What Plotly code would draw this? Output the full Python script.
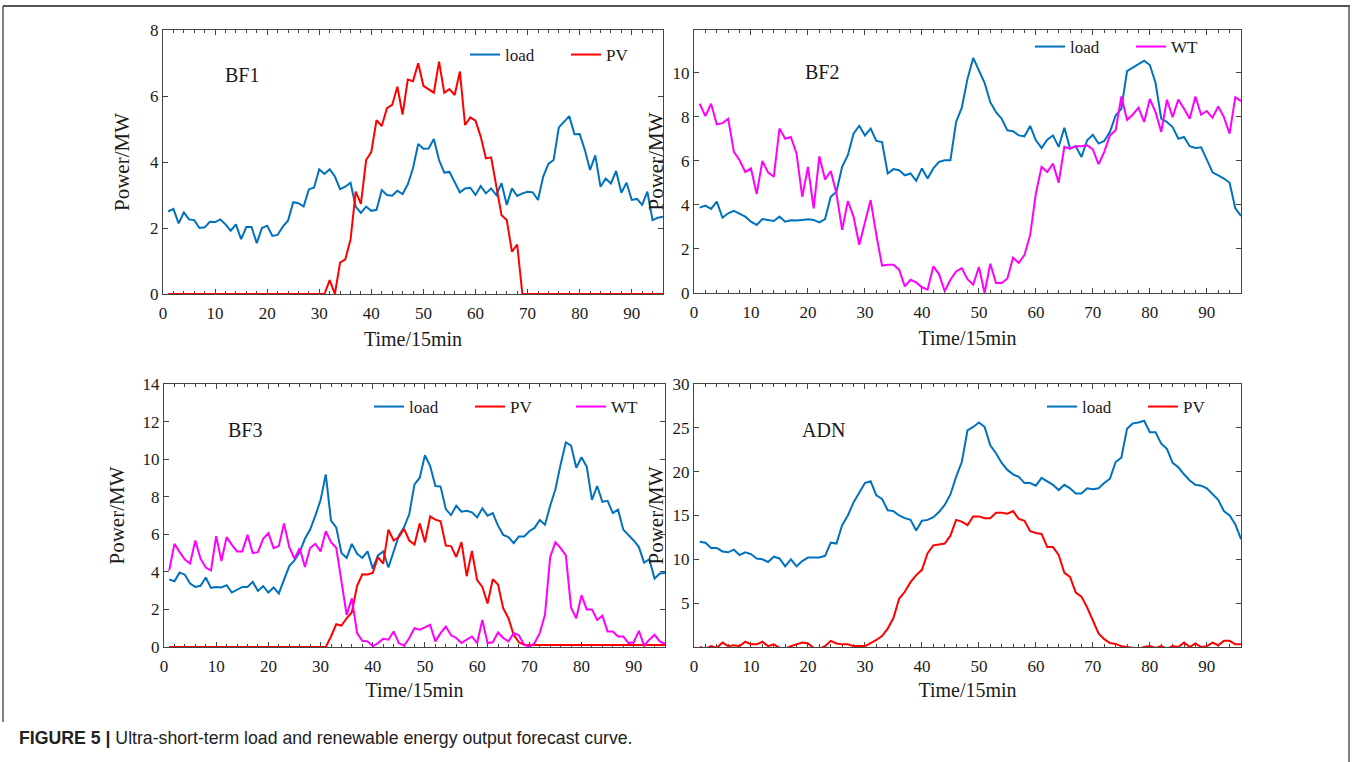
import plotly.graph_objects as go

# ---------------- data ----------------
t = list(range(1, 97))

bf1_load = [2.50, 2.58, 2.14, 2.47, 2.26, 2.24, 2.00, 2.02, 2.19, 2.18,
            2.26, 2.11, 1.92, 2.11, 1.66, 2.03, 2.03, 1.54, 2.00, 2.07,
            1.76, 1.79, 2.04, 2.22, 2.78, 2.75, 2.65, 3.17, 3.23, 3.78,
            3.64, 3.78, 3.56, 3.18, 3.25, 3.37, 2.65, 2.46, 2.65, 2.52,
            2.55, 3.15, 3.00, 2.98, 3.13, 3.03, 3.32, 3.81, 4.55, 4.40,
            4.41, 4.70, 4.06, 3.68, 3.70, 3.38, 3.08, 3.20, 3.22, 3.00,
            3.27, 3.05, 3.20, 3.00, 3.36, 2.70, 3.20, 2.97, 3.05, 3.10,
            3.08, 2.85, 3.56, 3.94, 4.06, 5.05, 5.22, 5.39, 4.84, 4.85,
            4.36, 3.76, 4.20, 3.25, 3.50, 3.35, 3.73, 3.07, 3.37, 2.85,
            2.88, 2.70, 3.10, 2.24, 2.31, 2.34]

bf1_pv = [0, 0, 0, 0, 0, 0, 0, 0, 0, 0,
          0, 0, 0, 0, 0, 0, 0, 0, 0, 0,
          0, 0, 0, 0, 0, 0, 0, 0, 0, 0,
          0, 0.42, 0, 0.95, 1.05, 1.64, 3.10, 2.73, 4.06, 4.31,
          5.27, 5.09, 5.63, 5.73, 6.28, 5.44, 6.50, 6.45, 6.99, 6.31,
          6.21, 6.10, 7.04, 6.10, 6.21, 6.03, 6.74, 5.12, 5.35, 5.25,
          4.77, 4.11, 4.14, 3.25, 2.39, 2.24, 1.28, 1.50, 0, 0,
          0, 0, 0, 0, 0, 0, 0, 0, 0, 0,
          0, 0, 0, 0, 0, 0, 0, 0, 0, 0,
          0, 0, 0, 0, 0, 0]

bf2_load = [3.88, 3.97, 3.82, 4.15, 3.42, 3.62, 3.73, 3.59, 3.47, 3.24,
            3.09, 3.36, 3.32, 3.27, 3.47, 3.24, 3.30, 3.29, 3.32, 3.35,
            3.32, 3.21, 3.36, 4.37, 4.60, 5.73, 6.26, 7.24, 7.60, 7.16,
            7.47, 6.91, 6.86, 5.43, 5.63, 5.58, 5.35, 5.43, 5.10, 5.66,
            5.20, 5.66, 5.96, 6.03, 6.03, 7.77, 8.42, 9.73, 10.68, 10.14,
            9.55, 8.67, 8.22, 7.92, 7.39, 7.35, 7.16, 7.12, 7.59, 6.94,
            6.59, 6.97, 7.16, 6.64, 7.51, 6.56, 6.67, 6.18, 6.94, 7.19,
            6.79, 6.91, 7.32, 8.07, 8.37, 10.08, 10.23, 10.41, 10.56, 10.36,
            9.55, 7.92, 7.77, 7.54, 7.01, 7.09, 6.67, 6.59, 6.62, 6.06,
            5.48, 5.35, 5.20, 5.01, 3.85, 3.50]

bf2_wt = [8.60, 8.04, 8.60, 7.66, 7.72, 7.92, 6.41, 6.03, 5.50, 5.66,
          4.50, 6.00, 5.48, 5.28, 7.47, 7.01, 7.09, 6.33, 4.37, 5.73,
          3.85, 6.21, 5.16, 5.54, 4.52, 2.87, 4.18, 3.47, 2.19, 3.24,
          4.22, 2.64, 1.24, 1.28, 1.28, 1.06, 0.30, 0.60, 0.48, 0.26,
          0.15, 1.21, 0.86, 0.08, 0.60, 0.98, 1.13, 0.63, 0.38, 1.18,
          0.00, 1.33, 0.45, 0.45, 0.66, 1.61, 1.36, 1.73, 2.64, 4.52,
          5.73, 5.50, 5.88, 5.01, 6.64, 6.56, 6.67, 6.67, 6.71, 6.53,
          5.85, 6.41, 7.16, 7.39, 8.93, 7.87, 8.10, 8.42, 7.77, 8.82,
          8.22, 7.32, 8.78, 7.99, 8.79, 8.37, 7.92, 8.93, 8.10, 8.27,
          7.96, 8.48, 7.99, 7.24, 8.90, 8.72]

bf3_load = [3.60, 3.50, 3.96, 3.85, 3.38, 3.20, 3.26, 3.70, 3.15, 3.19,
            3.17, 3.29, 2.90, 3.03, 3.20, 3.20, 3.47, 2.98, 3.24, 2.90,
            3.17, 2.85, 3.64, 4.31, 4.61, 5.05, 5.76, 6.25, 6.99, 7.82,
            9.19, 6.73, 6.37, 5.00, 4.74, 5.49, 4.96, 4.74, 5.09, 4.17,
            4.88, 5.09, 4.23, 5.05, 5.93, 6.37, 7.08, 8.66, 9.01, 10.21,
            9.63, 8.57, 8.54, 7.34, 7.02, 7.52, 7.20, 7.25, 7.17, 6.90,
            7.38, 6.99, 7.13, 6.46, 5.97, 5.85, 5.53, 5.88, 5.88, 6.16,
            6.34, 6.76, 6.51, 7.52, 8.40, 9.72, 10.90, 10.72, 9.54, 10.10,
            9.60, 7.83, 8.57, 7.73, 7.78, 7.13, 7.31, 6.25, 5.97, 5.67,
            5.32, 4.49, 4.67, 3.64, 3.91, 3.94]

bf3_pv = [0, 0, 0, 0, 0, 0, 0, 0, 0, 0,
          0, 0, 0, 0, 0, 0, 0, 0, 0, 0,
          0, 0, 0, 0, 0, 0, 0, 0, 0, 0,
          0, 0.56, 1.21, 1.14, 1.53, 1.85, 3.26, 3.87, 3.86, 3.94,
          4.79, 4.44, 6.25, 5.67, 5.85, 6.29, 5.67, 5.46, 6.58, 5.58,
          6.95, 6.78, 6.69, 5.40, 5.37, 4.79, 5.58, 3.77, 5.11, 3.56,
          3.20, 2.32, 3.61, 3.33, 2.06, 1.53, 0.65, 0.25, 0.12, 0.10,
          0.10, 0.10, 0.10, 0.10, 0.10, 0.10, 0.10, 0.10, 0.10, 0.10,
          0.10, 0.10, 0.10, 0.10, 0.10, 0.10, 0.10, 0.10, 0.10, 0.10,
          0.10, 0.10, 0.10, 0.10, 0.10, 0.10]

bf3_wt = [4.08, 5.49, 5.05, 4.65, 4.44, 5.67, 4.70, 4.23, 4.08, 5.90,
          4.58, 5.85, 5.44, 5.09, 5.09, 5.97, 5.00, 5.05, 5.76, 6.06,
          5.26, 5.37, 6.58, 5.32, 4.70, 5.26, 4.26, 5.28, 5.49, 5.09,
          6.16, 5.58, 5.28, 3.38, 1.71, 2.59, 0.74, 0.33, 0.30, 0.04,
          0.21, 0.44, 0.39, 0.83, 0.21, 0.07, 0.48, 1.00, 0.92, 1.04,
          1.18, 0.30, 0.74, 1.09, 0.62, 0.48, 0.21, 0.39, 0.56, 0.21,
          1.44, 0.21, 0.25, 0.77, 0.48, 0.30, 0.74, 0.62, 0.12, 0.00,
          0.21, 0.74, 1.71, 4.79, 5.58, 5.26, 4.88, 2.09, 1.53, 2.76,
          2.00, 2.00, 1.44, 1.67, 0.83, 0.83, 0.56, 0.56, 0.21, 0.25,
          0.86, 0.07, 0.39, 0.65, 0.30, 0.16]

adn_load = [12.0, 11.9, 11.3, 11.3, 10.9, 10.8, 11.1, 10.5, 10.8, 10.6,
            10.1, 10.0, 9.7, 10.3, 10.1, 9.2, 10.0, 9.2, 9.8, 10.2,
            10.2, 10.2, 10.4, 11.9, 11.8, 13.9, 15.0, 16.5, 17.6, 18.7,
            18.9, 17.3, 16.9, 15.6, 15.5, 15.0, 14.7, 14.5, 13.3, 14.4,
            14.5, 14.8, 15.4, 16.2, 17.4, 19.4, 21.1, 24.7, 25.1, 25.6,
            25.1, 23.0, 22.1, 21.0, 20.2, 19.7, 19.4, 18.7, 18.7, 18.4,
            19.3, 18.9, 18.5, 17.9, 18.5, 18.1, 17.5, 17.5, 18.1, 18.0,
            18.1, 18.7, 19.2, 21.1, 21.6, 24.9, 25.5, 25.6, 25.8, 24.5,
            24.5, 23.2, 22.6, 21.0, 20.5, 19.7, 19.0, 18.5, 18.4, 18.1,
            17.5, 16.8, 15.5, 15.0, 14.0, 12.3]

adn_pv = [0.0, -0.2, 0.1, -0.1, 0.5, 0.1, 0.2, 0.1, 0.6, 0.3,
          0.3, 0.6, 0.1, 0.3, -0.1, -0.2, 0.1, 0.3, 0.5, 0.4,
          -0.1, -0.2, 0.1, 0.7, 0.4, 0.3, 0.3, 0.1, 0.1, 0.1,
          0.45, 0.8, 1.25, 2.1, 3.3, 5.5, 6.3, 7.4, 8.2, 8.8,
          10.7, 11.6, 11.7, 11.8, 12.7, 14.5, 14.3, 13.9, 14.9, 14.9,
          14.7, 14.7, 15.3, 15.3, 15.2, 15.5, 14.6, 14.4, 13.2, 13.0,
          12.9, 11.4, 11.4, 10.5, 8.45, 8.0, 6.2, 5.75, 4.5, 3.0,
          1.55, 0.9, 0.45, 0.35, 0.1, 0.0, -0.1, -0.2, 0.0, 0.1,
          -0.1, 0.1, -0.2, 0.1, 0.0, 0.5, 0.0, 0.4, 0.0, 0.1,
          0.5, 0.2, 0.7, 0.7, 0.3, 0.3]

x_ticks = [0, 10, 20, 30, 40, 50, 60, 70, 80, 90]
bf1_yticks = [0, 2, 4, 6, 8]
bf2_yticks = [0, 2, 4, 6, 8, 10]
bf3_yticks = [0, 2, 4, 6, 8, 10, 12, 14]
adn_yticks = [5, 10, 15, 20, 25, 30]

panel_names = ["BF1", "BF2", "BF3", "ADN"]
x_title = "Time/15min"
y_title = "Power/MW"
caption_bold = "FIGURE 5 |"
caption_text = " Ultra-short-term load and renewable energy output forecast curve."

# ---------------- style ----------------
W, H = 1355, 762
BLUE = "#0072BD"
RED = "#FF0000"
MAG = "#FF00FF"
AX = "#444444"
TXT = "#1a1a1a"
SERIF = "Liberation Serif, Times New Roman, serif"
SANS = "Liberation Sans, Arial, sans-serif"


def px(x):
    return x / W


def py(y):
    return 1 - y / H


# panel boxes in pixels: left, right, top, bottom
boxes = [
    (163, 663, 30, 294),
    (694, 1241, 30, 293),
    (164, 665, 384, 647),
    (694, 1241, 384, 647),
]
yranges = [[0, 8], [0, 11.95], [0, 14], [0, 30]]
yticks = [bf1_yticks, bf2_yticks, bf3_yticks, adn_yticks]
ystandoff = [14, 3, 12, 3]

series = [
    [("load", bf1_load, BLUE), ("PV", bf1_pv, RED)],
    [("load", bf2_load, BLUE), ("WT", bf2_wt, MAG)],
    [("load", bf3_load, BLUE), ("PV", bf3_pv, RED), ("WT", bf3_wt, MAG)],
    [("load", adn_load, BLUE), ("PV", adn_pv, RED)],
]
legend_pos = [(667, 55), (1232, 47), (672, 407), (1244, 407)]
label_pos = [(242, 75), (822, 72), (245, 430), (823, 430)]

fig = go.Figure()
layout = dict(
    width=W, height=H,
    margin=dict(l=0, r=0, t=0, b=0),
    paper_bgcolor="white", plot_bgcolor="white",
    showlegend=True,
)
annotations = []

for i in range(4):
    l, r, tp, bt = boxes[i]
    sfx = "" if i == 0 else str(i + 1)
    xa = "x" + sfx
    ya = "y" + sfx
    leg = "legend" if i == 0 else "legend" + str(i + 1)
    for name, vals, col in series[i]:
        fig.add_trace(go.Scatter(
            x=t, y=vals, mode="lines", name=name,
            line=dict(color=col, width=2),
            xaxis=xa, yaxis=ya, legend=leg,
        ))
    layout["xaxis" + sfx] = dict(
        domain=[px(l), px(r)], anchor=ya, range=[0, 96],
        tickvals=x_ticks, ticks="inside", ticklen=5, tickwidth=1,
        tickcolor=AX, showline=True, linecolor=AX, linewidth=1.3,
        mirror="allticks", showgrid=False, zeroline=False,
        minor=dict(dtick=2, tick0=0, ticks="inside", ticklen=3,
                   tickcolor=AX, showgrid=False),
        tickfont=dict(family=SERIF, size=17, color=TXT),
        ticklabelstandoff=3,
        title=dict(text=x_title, font=dict(family=SERIF, size=20, color=TXT),
                   standoff=10 if i < 2 else 8),
        automargin=False, layer="below traces",
    )
    layout["yaxis" + sfx] = dict(
        domain=[py(bt), py(tp)], anchor=xa, range=yranges[i],
        tickvals=yticks[i], ticks="inside", ticklen=5, tickwidth=1,
        tickcolor=AX, showline=True, linecolor=AX, linewidth=1.3,
        mirror="ticks", showgrid=False, zeroline=False,
        tickfont=dict(family=SERIF, size=17, color=TXT),
        title=dict(text=y_title, font=dict(family=SERIF, size=21, color=TXT),
                   standoff=ystandoff[i]),
        automargin=False, layer="below traces" if i != 3 else "above traces",
    )
    lx, lyy = legend_pos[i]
    layout[leg] = dict(
        orientation="h", x=px(lx), y=py(lyy), xanchor="right", yanchor="middle",
        xref="paper", yref="paper", bgcolor="rgba(0,0,0,0)",
        font=dict(family=SERIF, size=17, color=TXT),
        itemwidth=30, tracegroupgap=0, entrywidth=56,
    )
    ax_, ay_ = label_pos[i]
    annotations.append(dict(
        text=panel_names[i], x=px(ax_), y=py(ay_), xref="paper", yref="paper",
        showarrow=False, xanchor="center", yanchor="middle",
        font=dict(family=SERIF, size=20, color=TXT),
    ))

annotations.append(dict(
    text="<b>" + caption_bold + "</b>" + caption_text,
    x=px(17), y=py(738), xref="paper", yref="paper", showarrow=False,
    xanchor="left", yanchor="middle",
    font=dict(family=SANS, size=17.7, color="#222222"),
))
layout["annotations"] = annotations
layout["shapes"] = [
    dict(type="line", xref="paper", yref="paper", x0=px(3), x1=px(1350),
         y0=py(6), y1=py(6), line=dict(color="#555555", width=2)),
    dict(type="line", xref="paper", yref="paper", x0=px(3), x1=px(3),
         y0=py(6), y1=py(722), line=dict(color="#555555", width=1.5)),
    dict(type="line", xref="paper", yref="paper", x0=px(1349), x1=px(1349),
         y0=py(6), y1=py(762), line=dict(color="#555555", width=1.5)),
]
fig.update_layout(**layout)
fig.write_html("out.html")
